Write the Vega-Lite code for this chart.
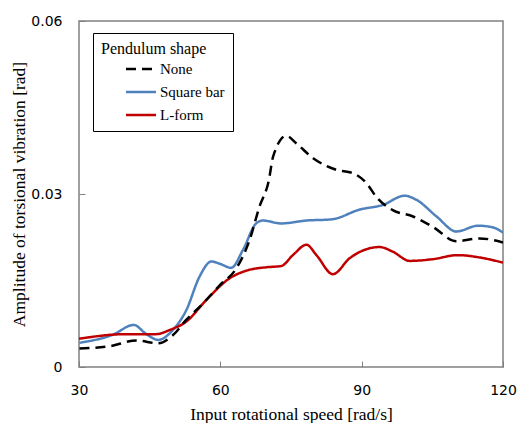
{
  "$schema": "https://vega.github.io/schema/vega-lite/v6.json",
  "width": 424,
  "height": 346,
  "autosize": "none",
  "padding": {"left": 79, "top": 21, "right": 15, "bottom": 56},
  "background": "white",
  "config": {
    "view": {"stroke": "#808080", "strokeWidth": 1.5},
    "axis": {"grid": false, "domain": false, "tickColor": "#808080", "tickSize": -6, "tickWidth": 1,
      "labelFont": "DejaVu Sans", "labelFontSize": 14, "labelColor": "#000", "titleFont": "Liberation Serif",
      "titleFontSize": 17.5, "titleFontWeight": "normal", "titleColor": "#000"}
  },
  "data": {"values": [
    {"speed": 30.1, "amp": 0.0042, "shape": "Square bar"},
    {"speed": 37.2, "amp": 0.0056, "shape": "Square bar"},
    {"speed": 41.6, "amp": 0.0073, "shape": "Square bar"},
    {"speed": 44.3, "amp": 0.0057, "shape": "Square bar"},
    {"speed": 46.8, "amp": 0.0047, "shape": "Square bar"},
    {"speed": 49.9, "amp": 0.0064, "shape": "Square bar"},
    {"speed": 52.8, "amp": 0.0099, "shape": "Square bar"},
    {"speed": 55.6, "amp": 0.0157, "shape": "Square bar"},
    {"speed": 58.1, "amp": 0.0183, "shape": "Square bar"},
    {"speed": 59.9, "amp": 0.0179, "shape": "Square bar"},
    {"speed": 62.3, "amp": 0.0172, "shape": "Square bar"},
    {"speed": 64.8, "amp": 0.0203, "shape": "Square bar"},
    {"speed": 67.6, "amp": 0.0249, "shape": "Square bar"},
    {"speed": 69.0, "amp": 0.0254, "shape": "Square bar"},
    {"speed": 72.9, "amp": 0.0249, "shape": "Square bar"},
    {"speed": 78.3, "amp": 0.0254, "shape": "Square bar"},
    {"speed": 83.6, "amp": 0.0256, "shape": "Square bar"},
    {"speed": 89.6, "amp": 0.0273, "shape": "Square bar"},
    {"speed": 94.5, "amp": 0.0281, "shape": "Square bar"},
    {"speed": 99.1, "amp": 0.0297, "shape": "Square bar"},
    {"speed": 101.6, "amp": 0.0290, "shape": "Square bar"},
    {"speed": 105.9, "amp": 0.0261, "shape": "Square bar"},
    {"speed": 110.1, "amp": 0.0235, "shape": "Square bar"},
    {"speed": 114.7, "amp": 0.0245, "shape": "Square bar"},
    {"speed": 117.9, "amp": 0.0242, "shape": "Square bar"},
    {"speed": 120.0, "amp": 0.0233, "shape": "Square bar"},
    {"speed": 30.0, "amp": 0.0049, "shape": "L-form"},
    {"speed": 40.0, "amp": 0.0057, "shape": "L-form"},
    {"speed": 46.4, "amp": 0.0057, "shape": "L-form"},
    {"speed": 49.2, "amp": 0.0064, "shape": "L-form"},
    {"speed": 52.8, "amp": 0.0079, "shape": "L-form"},
    {"speed": 57.0, "amp": 0.0116, "shape": "L-form"},
    {"speed": 62.0, "amp": 0.0154, "shape": "L-form"},
    {"speed": 65.5, "amp": 0.0167, "shape": "L-form"},
    {"speed": 69.8, "amp": 0.0173, "shape": "L-form"},
    {"speed": 72.9, "amp": 0.0175, "shape": "L-form"},
    {"speed": 75.4, "amp": 0.0194, "shape": "L-form"},
    {"speed": 78.3, "amp": 0.0212, "shape": "L-form"},
    {"speed": 80.4, "amp": 0.0194, "shape": "L-form"},
    {"speed": 83.9, "amp": 0.0161, "shape": "L-form"},
    {"speed": 87.5, "amp": 0.0189, "shape": "L-form"},
    {"speed": 93.8, "amp": 0.0208, "shape": "L-form"},
    {"speed": 96.6, "amp": 0.0200, "shape": "L-form"},
    {"speed": 100.2, "amp": 0.0184, "shape": "L-form"},
    {"speed": 105.1, "amp": 0.0187, "shape": "L-form"},
    {"speed": 110.4, "amp": 0.0194, "shape": "L-form"},
    {"speed": 115.0, "amp": 0.0190, "shape": "L-form"},
    {"speed": 120.0, "amp": 0.0181, "shape": "L-form"},
    {"speed": 30.1, "amp": 0.0032, "shape": "None"},
    {"speed": 36.5, "amp": 0.0036, "shape": "None"},
    {"speed": 42.2, "amp": 0.0046, "shape": "None"},
    {"speed": 46.8, "amp": 0.0041, "shape": "None"},
    {"speed": 49.9, "amp": 0.0055, "shape": "None"},
    {"speed": 52.8, "amp": 0.0082, "shape": "None"},
    {"speed": 56.3, "amp": 0.0110, "shape": "None"},
    {"speed": 59.9, "amp": 0.0142, "shape": "None"},
    {"speed": 63.4, "amp": 0.0171, "shape": "None"},
    {"speed": 66.2, "amp": 0.0220, "shape": "None"},
    {"speed": 68.3, "amp": 0.0278, "shape": "None"},
    {"speed": 70.3, "amp": 0.0324, "shape": "None"},
    {"speed": 71.2, "amp": 0.0365, "shape": "None"},
    {"speed": 74.0, "amp": 0.0401, "shape": "None"},
    {"speed": 76.1, "amp": 0.0388, "shape": "None"},
    {"speed": 79.7, "amp": 0.0362, "shape": "None"},
    {"speed": 84.6, "amp": 0.0342, "shape": "None"},
    {"speed": 88.2, "amp": 0.0336, "shape": "None"},
    {"speed": 91.0, "amp": 0.0319, "shape": "None"},
    {"speed": 93.1, "amp": 0.0295, "shape": "None"},
    {"speed": 96.6, "amp": 0.0272, "shape": "None"},
    {"speed": 100.9, "amp": 0.0261, "shape": "None"},
    {"speed": 105.1, "amp": 0.0243, "shape": "None"},
    {"speed": 110.1, "amp": 0.0218, "shape": "None"},
    {"speed": 115.0, "amp": 0.0223, "shape": "None"},
    {"speed": 120.0, "amp": 0.0216, "shape": "None"}
  ]},
  "mark": {"type": "line", "interpolate": "monotone", "strokeWidth": 2.5, "clip": true},
  "encoding": {
    "x": {"field": "speed", "type": "quantitative", "scale": {"domain": [30, 120], "nice": false},
      "axis": {"values": [30, 60, 90, 120], "title": "Input rotational speed [rad/s]", "labelPadding": 22, "titlePadding": 8, "labelFlush": false}},
    "y": {"field": "amp", "type": "quantitative", "scale": {"domain": [0, 0.06], "nice": false},
      "axis": {"values": [0, 0.03, 0.06], "format": ".2~f", "title": "Amplitude of torsional vibration [rad]", "labelPadding": 23, "titlePadding": 2}},
    "color": {"field": "shape", "type": "nominal",
      "scale": {"domain": ["None", "Square bar", "L-form"], "range": ["#000000", "#4F81BD", "#C00000"]},
      "legend": {"title": "Pendulum shape", "orient": "none", "legendX": 14, "legendY": 12,
        "strokeColor": "#000", "fillColor": "#fff", "padding": 8,
        "titleFont": "Liberation Serif", "titleFontSize": 16, "titleFontWeight": "normal", "titleColor": "#000", "titlePadding": 3,
        "labelFont": "Liberation Serif", "labelFontSize": 15, "labelColor": "#000",
        "symbolType": "M-2,0H2", "symbolSize": 225, "symbolStrokeWidth": 2.5, "symbolOffset": 31, "labelOffset": 10, "rowPadding": 6}},
    "strokeDash": {"field": "shape", "type": "nominal",
      "scale": {"domain": ["None", "Square bar", "L-form"], "range": [[10, 6], [1, 0], [1, 0]]},
      "legend": {"title": "Pendulum shape", "orient": "none", "legendX": 14, "legendY": 12,
        "strokeColor": "#000", "fillColor": "#fff", "padding": 8,
        "titleFont": "Liberation Serif", "titleFontSize": 16, "titleFontWeight": "normal", "titleColor": "#000", "titlePadding": 3,
        "labelFont": "Liberation Serif", "labelFontSize": 15, "labelColor": "#000",
        "symbolType": "M-2,0H2", "symbolSize": 225, "symbolStrokeWidth": 2.5, "symbolOffset": 31, "labelOffset": 10, "rowPadding": 6}}
  }
}
